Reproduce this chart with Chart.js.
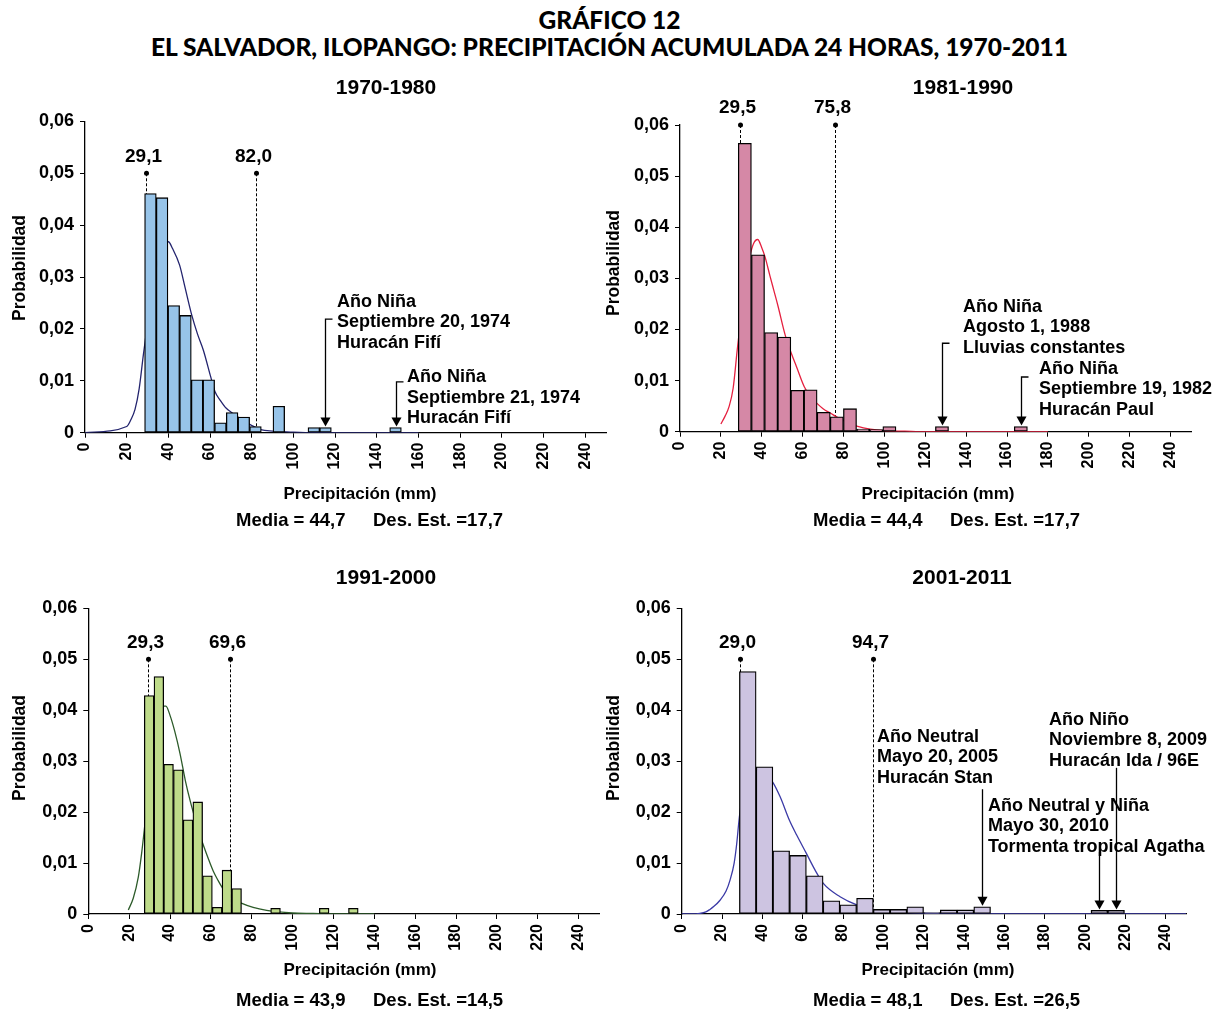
<!DOCTYPE html>
<html lang="es">
<head>
<meta charset="utf-8">
<title>Gráfico 12</title>
<script src="https://cdn.jsdelivr.net/npm/chart.js@4.4.1/dist/chart.umd.min.js"></script>
<style>
  html, body { margin: 0; padding: 0; background: #fff; }
  #page { position: relative; width: 1219px; height: 1011px; overflow: hidden; }
  #title { position: absolute; left: 0; top: 6px; width: 1219px; text-align: center;
    font-family: Lato, "Liberation Sans", sans-serif; font-weight: 900; font-size: 24.5px;
    line-height: 27px; color: #000; }
  canvas { position: absolute; }
</style>
</head>
<body>
<div id="page">
  <div id="title">GRÁFICO 12<br>EL SALVADOR, ILOPANGO: PRECIPITACIÓN ACUMULADA 24 HORAS, 1970-2011</div>
  <canvas id="c1"></canvas>
  <canvas id="c2"></canvas>
  <canvas id="c3"></canvas>
  <canvas id="c4"></canvas>
</div>
<script>
const FONT = '"Liberation Sans", Arial, Helvetica, sans-serif';

const periods = ['1970-1980', '1981-1990', '1991-2000', '2001-2011'];
const medias = ['44,7', '44,4', '43,9', '48,1'];
const desvs = ['17,7', '17,7', '14,5', '26,5'];

// 1970-1980
const bins1 = [31.4, 37.0, 42.6, 48.2, 53.8, 59.4, 65.0, 70.6, 76.2, 81.8, 87.4, 93.0, 98.6, 104.2, 109.8, 115.4, 121.0, 126.6, 132.2, 137.8, 143.4, 149.0];
const prob1 = [0.0461, 0.0453, 0.0245, 0.0226, 0.0102, 0.0102, 0.0019, 0.0039, 0.0030, 0.0012, null, 0.0051, null, null, 0.0010, 0.0010, null, null, null, null, null, 0.0010];
const curveX1 = [0, 20, 22, 24, 26, 28, 30, 32, 35, 38, 40, 42, 45.4, 48, 51.2, 54, 56.8, 60.3, 62.4, 65, 67.8, 70, 73.1, 76, 79.5, 84.3, 89.9, 95, 100, 110, 120, 140, 160];
const curveY1 = [0, 0.0012, 0.0025, 0.0045, 0.0085, 0.015, 0.021, 0.027, 0.033, 0.0365, 0.0368, 0.0355, 0.0323, 0.0280, 0.0227, 0.0190, 0.0159, 0.0108, 0.0079, 0.0062, 0.0047, 0.0040, 0.0031, 0.0023, 0.0015, 0.0006, 0.0003, 0.0002, 0.0001, 0, 0, 0, 0];
const marks1 = [29.1, 82.0];

// 1981-1990
const bins2 = [31.72, 38.15, 44.58, 51.01, 57.44, 63.87, 70.30, 76.73, 83.16, 89.59, 96.02, 102.45, 108.88, 115.31, 121.74, 128.17, 134.60, 141.03, 147.46, 153.89, 160.32, 166.75];
const prob2 = [0.0564, 0.0346, 0.0194, 0.0185, 0.0081, 0.0082, 0.0038, 0.0029, 0.0045, 0.0005, 0.0004, 0.0010, null, null, null, 0.0010, null, null, null, null, null, 0.0010];
const curveX2 = [20, 22, 24, 26, 28, 30, 32, 34, 36, 38, 40, 41.6, 44, 46, 48, 51.4, 54.5, 57, 60.8, 64, 67.4, 70, 73.7, 77, 80, 83, 86.5, 93, 100, 110, 120, 140, 160, 180];
const curveY2 = [0.0015, 0.0030, 0.0049, 0.0085, 0.0160, 0.0230, 0.0295, 0.0340, 0.0368, 0.0376, 0.0360, 0.0342, 0.0305, 0.0275, 0.0245, 0.0190, 0.0153, 0.0127, 0.0088, 0.0068, 0.0054, 0.0045, 0.0036, 0.0028, 0.0022, 0.0016, 0.0011, 0.0005, 0.0002, 0.0001, 0, 0, 0, 0];
const marks2 = [29.5, 75.8];

// 1991-2000
const bins3 = [29.78, 34.54, 39.30, 44.06, 48.82, 53.58, 58.34, 63.10, 67.86, 72.62, 77.38, 82.14, 86.90, 91.66, 96.42, 101.18, 105.94, 110.70, 115.46, 120.22, 124.98, 129.74];
const prob3 = [0.0429, 0.0466, 0.0294, 0.0283, 0.0185, 0.0220, 0.0075, 0.0013, 0.0086, 0.0050, null, null, null, 0.0011, null, null, null, null, 0.0011, null, null, 0.0011];
const curveX3 = [19.6, 22, 24.5, 26.1, 27.4, 29, 31, 33, 35, 37, 38, 40, 42.3, 44.9, 47.5, 50, 52, 54, 56.6, 59, 61.2, 63.5, 65.7, 68, 70.3, 75.2, 80.7, 87.3, 93, 100, 110, 120, 130, 140];
const curveY3 = [0.0008, 0.0031, 0.0073, 0.0119, 0.0165, 0.0225, 0.0295, 0.0350, 0.0390, 0.0408, 0.0408, 0.0390, 0.0359, 0.0315, 0.0262, 0.0220, 0.0191, 0.0163, 0.0132, 0.0106, 0.0084, 0.0066, 0.0051, 0.0040, 0.0031, 0.0021, 0.0013, 0.0007, 0.0004, 0.0002, 0.0001, 0, 0, 0];
const marks3 = [29.3, 69.6];

// 2001-2011
const bins4 = [32.75, 41.05, 49.35, 57.65, 65.95, 74.25, 82.55, 90.85, 99.15, 107.45, 115.75, 124.05, 132.35, 140.65, 148.95, 157.25, 165.55, 173.85, 182.15, 190.45, 198.75, 207.05, 215.35];
const prob4 = [0.0476, 0.0289, 0.0124, 0.0115, 0.0075, 0.0026, 0.0018, 0.0031, 0.0009, 0.0009, 0.0014, 0.0003, 0.0008, 0.0008, 0.0014, null, null, null, null, null, null, 0.0007, 0.0007];
const curveX4 = [0, 5, 9, 12, 14, 16, 19, 22, 24, 26, 27.3, 28.6, 31, 33, 35, 37, 40, 42.5, 45.1, 48.8, 53.4, 57, 61.8, 66, 70.2, 78.5, 86.8, 95, 103, 115, 130, 150, 180, 210, 250];
const curveY4 = [0, 0, 0.0001, 0.0004, 0.0009, 0.0015, 0.0027, 0.0045, 0.0067, 0.0100, 0.0139, 0.0191, 0.0250, 0.0278, 0.0286, 0.0284, 0.0278, 0.0270, 0.0259, 0.0230, 0.0184, 0.0155, 0.0119, 0.0087, 0.0060, 0.0034, 0.0018, 0.0009, 0.0005, 0.0002, 0.0001, 0, 0, 0, 0];
const marks4 = [29.0, 94.7];

// notes: text anchor (mm, prob), arrow start (prob), target bin
const notes1 = [
  { lines: ['Año Niña', 'Septiembre 20, 1974', 'Huracán Fifí'], tx: 120.9, ty: 0.0252, ay: 0.0219, bin: 15, hook: true },
  { lines: ['Año Niña', 'Septiembre 21, 1974', 'Huracán Fifí'], tx: 154.5, ty: 0.0107, ay: 0.0098, bin: 21, hook: true }
];
const notes2 = [
  { lines: ['Año Niña', 'Agosto 1, 1988', 'Lluvias constantes'], tx: 138.5, ty: 0.0244, ay: 0.0173, bin: 15, hook: true },
  { lines: ['Año Niña', 'Septiembre 19, 1982', 'Huracán Paul'], tx: 175.6, ty: 0.0123, ay: 0.0107, bin: 21, hook: true }
];
const notes3 = [];
const notes4 = [
  { lines: ['Año Neutral', 'Mayo 20, 2005', 'Huracán Stan'], tx: 96.8, ty: 0.0348, ay: 0.0245, bin: 14, hook: false },
  { lines: ['Año Neutral y Niña', 'Mayo 30, 2010', 'Tormenta tropical Agatha'], tx: 151.8, ty: 0.0212, ay: 0.0122, bin: 21, hook: false },
  { lines: ['Año Niño', 'Noviembre 8, 2009', 'Huracán Ida / 96E'], tx: 182.1, ty: 0.0381, ay: 0.0287, bin: 22, hook: false }
];

function panelPlugin(cfg) {
  return {
    id: 'panelText',
    beforeDatasetsDraw(chart) {
      const { ctx, scales: { x, y } } = chart;
      ctx.save();
      ctx.strokeStyle = '#000';
      ctx.lineWidth = 1;
      ctx.setLineDash([3, 2]);
      cfg.marks.forEach(m => {
        const px = Math.round(x.getPixelForValue(m)) + 0.5;
        ctx.beginPath();
        ctx.moveTo(px, y.getPixelForValue(cfg.markLevel));
        ctx.lineTo(px, y.getPixelForValue(0));
        ctx.stroke();
      });
      ctx.restore();
    },
    afterDraw(chart) {
      const { ctx, scales: { x, y } } = chart;
      const cx = cfg.box[0], cy = cfg.box[1];
      ctx.save();
      ctx.fillStyle = '#000';
      ctx.strokeStyle = '#000';
      ctx.textBaseline = 'middle';

      // mark dots and values
      ctx.font = `bold 19px ${FONT}`;
      ctx.textAlign = 'center';
      const dy = y.getPixelForValue(cfg.markLevel);
      cfg.marks.forEach(m => {
        const px = Math.round(x.getPixelForValue(m)) + 0.5;
        ctx.beginPath();
        ctx.arc(px, dy, 2.5, 0, Math.PI * 2);
        ctx.fill();
        ctx.fillText(m.toFixed(1).replace('.', ','), px - 3, dy - 17);
      });

      // event notes with arrows
      ctx.font = `bold 18px ${FONT}`;
      ctx.textAlign = 'left';
      cfg.notes.forEach(n => {
        const tx = x.getPixelForValue(n.tx), ty = y.getPixelForValue(n.ty);
        n.lines.forEach((s, i) => ctx.fillText(s, tx, ty + i * 20.5));
        const ax = Math.round(x.getPixelForValue(cfg.bins[n.bin])) + 0.5;
        const top = y.getPixelForValue(n.ay);
        const tip = y.getPixelForValue(cfg.prob[n.bin]) - 1;
        ctx.lineWidth = 1.3;
        ctx.beginPath();
        if (n.hook) { ctx.moveTo(ax + 7, top); ctx.lineTo(ax, top); } else { ctx.moveTo(ax, top); }
        ctx.lineTo(ax, tip - 6);
        ctx.stroke();
        ctx.beginPath();
        ctx.moveTo(ax - 5, tip - 9);
        ctx.lineTo(ax + 5, tip - 9);
        ctx.lineTo(ax, tip);
        ctx.closePath();
        ctx.fill();
      });

      // panel title
      ctx.textAlign = 'center';
      ctx.font = `bold 21px ${FONT}`;
      ctx.fillText(cfg.title, cfg.titlePos[0] - cx, cfg.titlePos[1] - cy);

      // axis titles
      ctx.font = `bold 17px ${FONT}`;
      ctx.fillText('Precipitación (mm)', cfg.xTitlePos[0] - cx, cfg.xTitlePos[1] - cy);
      ctx.save();
      ctx.translate(cfg.yTitlePos[0] - cx, cfg.yTitlePos[1] - cy);
      ctx.rotate(-Math.PI / 2);
      ctx.font = `bold 17.5px ${FONT}`;
      ctx.fillText('Probabilidad', 0, 0);
      ctx.restore();

      // stats line
      ctx.textAlign = 'left';
      ctx.font = `bold 18.5px ${FONT}`;
      ctx.fillText('Media = ' + cfg.media, cfg.statX[0] - cx, cfg.statY - cy);
      ctx.fillText('Des. Est. =' + cfg.desv, cfg.statX[1] - cx, cfg.statY - cy);
      ctx.restore();
    }
  };
}

function makePanel(id, cfg) {
  const canvas = document.getElementById(id);
  const [cx, cy, cw, ch] = cfg.box;
  const [L, T, R, B] = cfg.area;
  canvas.width = cw;
  canvas.height = ch;
  canvas.style.left = cx + 'px';
  canvas.style.top = cy + 'px';
  canvas.style.width = cw + 'px';
  canvas.style.height = ch + 'px';
  return new Chart(canvas, {
    type: 'bar',
    data: {
      datasets: [
        {
          type: 'bar',
          data: cfg.bins.map((b, i) => ({ x: b, y: cfg.prob[i] })),
          backgroundColor: cfg.fill,
          borderColor: '#000',
          borderWidth: 1.3,
          borderSkipped: false,
          barPercentage: 1,
          categoryPercentage: 1,
          order: 1
        },
        {
          type: 'line',
          data: cfg.curveX.map((v, i) => ({ x: v, y: cfg.curveY[i] })),
          borderColor: cfg.line,
          borderWidth: 1.3,
          pointRadius: 0,
          cubicInterpolationMode: 'monotone',
          fill: false,
          order: 2
        }
      ]
    },
    options: {
      responsive: false,
      animation: false,
      devicePixelRatio: 1,
      layout: { padding: { left: 0, top: T - cy, right: cx + cw - R, bottom: 0 } },
      plugins: { legend: { display: false }, tooltip: { enabled: false } },
      scales: {
        x: {
          type: 'linear', min: 0, max: 250, offset: false,
          afterFit(s) { s.height = cy + ch - B; s.paddingLeft = 0; s.paddingRight = 0; },
          ticks: {
            stepSize: 20, includeBounds: false, minRotation: 90, maxRotation: 90, autoSkip: false,
            color: '#000', font: { family: FONT, weight: 'bold', size: 16 }, padding: 5
          },
          grid: { offset: false, drawOnChartArea: false, tickLength: 5, color: '#000' },
          border: { color: '#000', width: 1.3 }
        },
        y: {
          min: 0, max: 0.06,
          afterFit(s) { s.width = L - cx; s.paddingTop = 0; s.paddingBottom = 0; },
          ticks: {
            stepSize: 0.01,
            callback: v => v === 0 ? '0' : v.toFixed(2).replace('.', ','),
            color: '#000', font: { family: FONT, weight: 'bold', size: 18 }, padding: 6
          },
          grid: { drawOnChartArea: false, tickLength: 5, color: '#000' },
          border: { color: '#000', width: 1.3 }
        }
      }
    },
    plugins: [panelPlugin(cfg)]
  });
}

makePanel('c1', {
  box: [0, 60, 612, 480], area: [85, 121.4, 606, 432.7],
  bins: bins1, prob: prob1, curveX: curveX1, curveY: curveY1, marks: marks1, markLevel: 0.05,
  notes: notes1, fill: '#97c4e9', line: '#23246e',
  title: periods[0], titlePos: [386, 88], xTitlePos: [360, 494], yTitlePos: [20, 268],
  media: medias[0], desv: desvs[0], statX: [236, 373], statY: 521
});
makePanel('c2', {
  box: [600, 60, 619, 480], area: [680, 125, 1191, 431.7],
  bins: bins2, prob: prob2, curveX: curveX2, curveY: curveY2, marks: marks2, markLevel: 0.06,
  notes: notes2, fill: '#d588a6', line: '#e5203f',
  title: periods[1], titlePos: [963, 88], xTitlePos: [938, 494], yTitlePos: [614, 263],
  media: medias[1], desv: desvs[1], statX: [813, 950], statY: 521
});
makePanel('c3', {
  box: [0, 545, 612, 466], area: [88.3, 608.4, 599, 914],
  bins: bins3, prob: prob3, curveX: curveX3, curveY: curveY3, marks: marks3, markLevel: 0.05,
  notes: notes3, fill: '#bedb8a', line: '#2d5b2a',
  title: periods[2], titlePos: [386, 578], xTitlePos: [360, 970], yTitlePos: [20, 748],
  media: medias[2], desv: desvs[2], statX: [236, 373], statY: 1001
});
makePanel('c4', {
  box: [600, 545, 619, 466], area: [681.7, 608.4, 1186, 914],
  bins: bins4, prob: prob4, curveX: curveX4, curveY: curveY4, marks: marks4, markLevel: 0.05,
  notes: notes4, fill: '#cdc4e1', line: '#3b3aa6',
  title: periods[3], titlePos: [962, 578], xTitlePos: [938, 970], yTitlePos: [614, 748],
  media: medias[3], desv: desvs[3], statX: [813, 950], statY: 1001
});
</script>
</body>
</html>
